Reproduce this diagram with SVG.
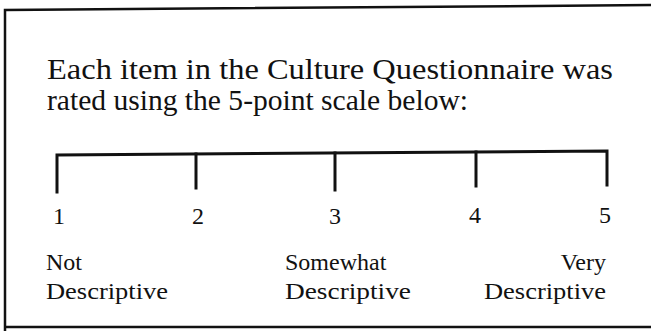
<svg xmlns="http://www.w3.org/2000/svg" width="651" height="331" viewBox="0 0 651 331">
<style>
.t{font-family:"Liberation Serif","Times New Roman",serif;fill:#111}
.h{font-size:30px}
.n{font-size:24px}
.l{font-size:24px}
.ln{stroke:#111;stroke-width:3;fill:none;stroke-linecap:square}
.bx{stroke:#111;stroke-width:2.5;fill:none}
</style>
<rect width="651" height="331" fill="#fff"/>
<g id="frame">
<polyline class="bx" points="660,5 5,10 5,331"/>
<line class="bx" x1="5" y1="327" x2="660" y2="327"/>
</g>
<g id="heading">
<text class="t h" x="47" y="79" textLength="566" lengthAdjust="spacingAndGlyphs">Each item in the Culture Questionnaire was</text>
<text class="t h" x="47" y="110" textLength="421" lengthAdjust="spacingAndGlyphs">rated using the 5-point scale below:</text>
</g>
<g id="scale">
<polyline class="ln" points="57,192 57,155 607,151 607,185"/>
<line class="ln" x1="196" y1="154" x2="196" y2="188"/>
<line class="ln" x1="335" y1="153" x2="335" y2="190"/>
<line class="ln" x1="476" y1="152" x2="476" y2="186"/>
</g>
<g id="numbers">
<text class="t n" x="59" y="224" text-anchor="middle">1</text>
<text class="t n" x="198" y="224" text-anchor="middle">2</text>
<text class="t n" x="335" y="224" text-anchor="middle">3</text>
<text class="t n" x="475" y="223" text-anchor="middle">4</text>
<text class="t n" x="605" y="223" text-anchor="middle">5</text>
</g>
<g id="labels">
<text class="t l" x="46" y="270">Not</text>
<text class="t l" x="46" y="299" textLength="122" lengthAdjust="spacingAndGlyphs">Descriptive</text>
<text class="t l" x="285" y="270">Somewhat</text>
<text class="t l" x="285" y="299" textLength="126" lengthAdjust="spacingAndGlyphs">Descriptive</text>
<text class="t l" x="606" y="270" text-anchor="end">Very</text>
<text class="t l" x="484" y="299" textLength="122" lengthAdjust="spacingAndGlyphs">Descriptive</text>
</g>
</svg>
